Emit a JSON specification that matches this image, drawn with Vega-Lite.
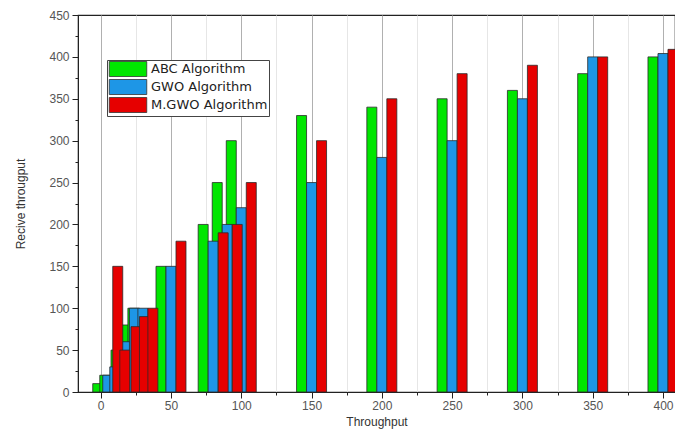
{
  "$schema": "https://vega.github.io/schema/vega-lite/v6.json",
  "width": 597,
  "height": 377,
  "autosize": {"type": "none"},
  "padding": {"left": 78, "top": 15, "right": 0, "bottom": 42},
  "background": "white",
  "config": {
    "view": {"stroke": "#222", "strokeWidth": 1.2},
    "font": "Liberation Sans"
  },
  "data": {
    "values": [
      {"x": 5, "alg": "ABC Algorithm", "v": 10},
      {"x": 5, "alg": "GWO Algorithm", "v": 20},
      {"x": 5, "alg": "M.GWO Algorithm", "v": 150},
      {"x": 10, "alg": "ABC Algorithm", "v": 20},
      {"x": 10, "alg": "GWO Algorithm", "v": 30},
      {"x": 10, "alg": "M.GWO Algorithm", "v": 50},
      {"x": 18, "alg": "ABC Algorithm", "v": 50},
      {"x": 18, "alg": "GWO Algorithm", "v": 60},
      {"x": 18, "alg": "M.GWO Algorithm", "v": 78},
      {"x": 24, "alg": "ABC Algorithm", "v": 80},
      {"x": 24, "alg": "GWO Algorithm", "v": 100},
      {"x": 24, "alg": "M.GWO Algorithm", "v": 90},
      {"x": 30, "alg": "ABC Algorithm", "v": 100},
      {"x": 30, "alg": "GWO Algorithm", "v": 100},
      {"x": 30, "alg": "M.GWO Algorithm", "v": 100},
      {"x": 50, "alg": "ABC Algorithm", "v": 150},
      {"x": 50, "alg": "GWO Algorithm", "v": 150},
      {"x": 50, "alg": "M.GWO Algorithm", "v": 180},
      {"x": 80, "alg": "ABC Algorithm", "v": 200},
      {"x": 80, "alg": "GWO Algorithm", "v": 180},
      {"x": 80, "alg": "M.GWO Algorithm", "v": 190},
      {"x": 90, "alg": "ABC Algorithm", "v": 250},
      {"x": 90, "alg": "GWO Algorithm", "v": 200},
      {"x": 90, "alg": "M.GWO Algorithm", "v": 200},
      {"x": 100, "alg": "ABC Algorithm", "v": 300},
      {"x": 100, "alg": "GWO Algorithm", "v": 220},
      {"x": 100, "alg": "M.GWO Algorithm", "v": 250},
      {"x": 150, "alg": "ABC Algorithm", "v": 330},
      {"x": 150, "alg": "GWO Algorithm", "v": 250},
      {"x": 150, "alg": "M.GWO Algorithm", "v": 300},
      {"x": 200, "alg": "ABC Algorithm", "v": 340},
      {"x": 200, "alg": "GWO Algorithm", "v": 280},
      {"x": 200, "alg": "M.GWO Algorithm", "v": 350},
      {"x": 250, "alg": "ABC Algorithm", "v": 350},
      {"x": 250, "alg": "GWO Algorithm", "v": 300},
      {"x": 250, "alg": "M.GWO Algorithm", "v": 380},
      {"x": 300, "alg": "ABC Algorithm", "v": 360},
      {"x": 300, "alg": "GWO Algorithm", "v": 350},
      {"x": 300, "alg": "M.GWO Algorithm", "v": 390},
      {"x": 350, "alg": "ABC Algorithm", "v": 380},
      {"x": 350, "alg": "GWO Algorithm", "v": 400},
      {"x": 350, "alg": "M.GWO Algorithm", "v": 400},
      {"x": 400, "alg": "ABC Algorithm", "v": 400},
      {"x": 400, "alg": "GWO Algorithm", "v": 404},
      {"x": 400, "alg": "M.GWO Algorithm", "v": 409}
    ]
  },
  "encoding": {
    "x": {
      "field": "x",
      "type": "quantitative",
      "scale": {"domain": [-12.6, 405], "nice": false, "zero": false},
      "axis": {
        "title": "Throughput",
        "values": [0, 25, 50, 75, 100, 125, 150, 175, 200, 225, 250, 275, 300, 325, 350, 375, 400],
        "labelExpr": "datum.value % 50 == 0 ? datum.label : ''",
        "grid": true,
        "gridColor": {"condition": {"test": "datum.value % 50 == 0", "value": "#b0b0b0"}, "value": "#e6e6e6"},
        "tickSize": {"condition": {"test": "datum.value % 50 == 0", "value": 6}, "value": 3},
        "domainColor": "#222",
        "tickColor": "#222",
        "labelColor": "#555",
        "labelFontSize": 12,
        "labelPadding": 2,
        "titleFontSize": 12,
        "titleFontWeight": "normal",
        "titleColor": "#333",
        "titlePadding": 5
      }
    },
    "y": {
      "field": "v",
      "type": "quantitative",
      "scale": {"domain": [0, 450], "nice": false},
      "axis": {
        "title": "Recive througput",
        "values": [0, 25, 50, 75, 100, 125, 150, 175, 200, 225, 250, 275, 300, 325, 350, 375, 400, 425, 450],
        "labelExpr": "datum.value % 50 == 0 ? datum.label : ''",
        "grid": false,
        "tickSize": {"condition": {"test": "datum.value % 50 == 0", "value": 6}, "value": 3},
        "domainColor": "#222",
        "tickColor": "#222",
        "labelColor": "#555",
        "labelFontSize": 12,
        "labelPadding": 3,
        "titleFontSize": 12,
        "titleFontWeight": "normal",
        "titleColor": "#333",
        "titlePadding": 21
      }
    },
    "color": {
      "field": "alg",
      "type": "nominal",
      "scale": {
        "domain": ["ABC Algorithm", "GWO Algorithm", "M.GWO Algorithm"],
        "range": ["#00e600", "#1e96e6", "#e60000"]
      },
      "legend": {
        "title": null,
        "orient": "none",
        "legendX": 29,
        "legendY": 45,
        "strokeColor": "#444",
        "fillColor": "white",
        "padding": 1,
        "symbolType": "M-2.5,-1H2.5V1H-2.5Z",
        "symbolSize": 225,
        "symbolOffset": 12,
        "symbolStrokeColor": "#333",
        "symbolStrokeWidth": 0.8,
        "symbolOpacity": 1,
        "labelFont": "DejaVu Sans",
        "labelFontSize": 13,
        "labelColor": "#222",
        "labelOffset": 15,
        "rowPadding": -3
      }
    }
  },
  "layer": [
    {
      "transform": [{"filter": "datum.alg == 'ABC Algorithm'"}],
      "mark": {"type": "bar", "width": 10, "xOffset": -10, "stroke": "#2a2a2a", "strokeWidth": 0.8, "opacity": 1}
    },
    {
      "transform": [{"filter": "datum.alg == 'GWO Algorithm'"}],
      "mark": {"type": "bar", "width": 10, "xOffset": 0, "stroke": "#2a2a2a", "strokeWidth": 0.8, "opacity": 1}
    },
    {
      "transform": [{"filter": "datum.alg == 'M.GWO Algorithm'"}],
      "mark": {"type": "bar", "width": 10, "xOffset": 10, "stroke": "#2a2a2a", "strokeWidth": 0.8, "opacity": 1}
    }
  ]
}
